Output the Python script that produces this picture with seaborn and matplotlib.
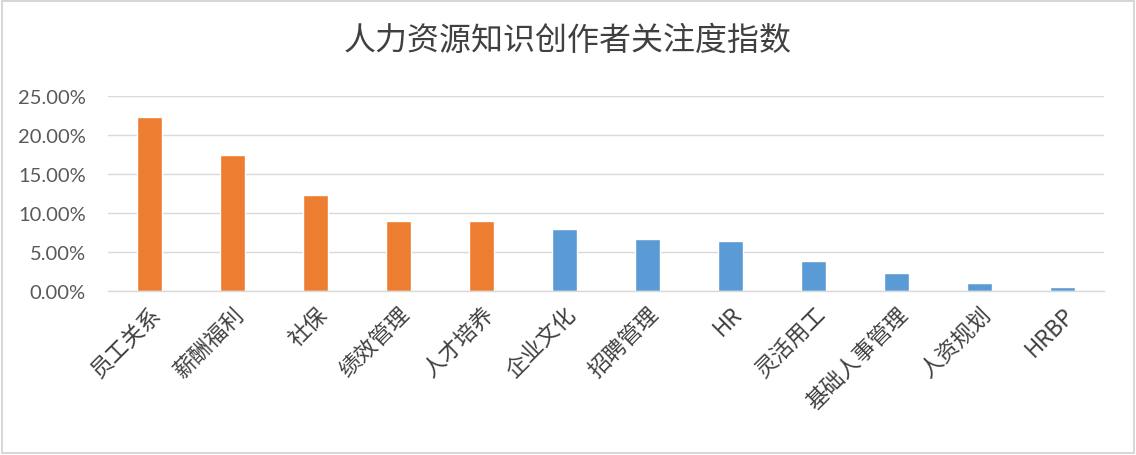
import matplotlib
matplotlib.use("Agg")
import matplotlib.pyplot as plt
import seaborn as sns
import pandas as pd
from matplotlib.ticker import PercentFormatter, MultipleLocator
from matplotlib.patches import Rectangle

categories = ["员工关系", "薪酬福利", "社保", "绩效管理", "人才培养", "企业文化",
              "招聘管理", "HR", "灵活用工", "基础人事管理", "人资规划", "HRBP"]
values = [0.223, 0.174, 0.123, 0.090, 0.090, 0.0795,
          0.067, 0.064, 0.0385, 0.023, 0.010, 0.005]
groups = ["前五", "前五", "前五", "前五", "前五", "其他",
          "其他", "其他", "其他", "其他", "其他", "其他"]
title = "人力资源知识创作者关注度指数"

sns.set_theme(style="white")
plt.rcParams["font.family"] = ["Noto Sans CJK SC", "DejaVu Sans"]

df = pd.DataFrame({"cat": categories, "val": values, "grp": groups})
palette = {"前五": "#ED7D31", "其他": "#5B9BD5"}

fig = plt.figure(figsize=(11.36, 4.56), dpi=100)
fig.patch.set_facecolor("white")
ax = fig.add_axes([0.095, 0.3596, 0.877, 0.4274])

sns.barplot(data=df, x="cat", y="val", hue="grp", palette=palette, dodge=False,
            width=0.3, legend=False, ax=ax, saturation=1)

ax.set_ylim(0, 0.25)
ax.set_xlim(-0.5, len(categories) - 0.5)
ax.yaxis.set_major_locator(MultipleLocator(0.05))
ax.yaxis.set_major_formatter(PercentFormatter(xmax=1, decimals=2))
ax.grid(axis="y", color="#D9D9D9", linewidth=1)
ax.set_axisbelow(True)
for s in ["top", "right", "left"]:
    ax.spines[s].set_visible(False)
ax.spines["bottom"].set_color("#D9D9D9")
ax.spines["bottom"].set_linewidth(1)
ax.set_xlabel("")
ax.set_ylabel("")
ax.tick_params(axis="both", length=0)
ax.tick_params(axis="y", labelsize=14.5, labelcolor="#595959", pad=16)
ax.tick_params(axis="x", labelsize=16, labelcolor="#404040", pad=8)
for lbl in ax.get_yticklabels():
    lbl.set_family(["Lato", "DejaVu Sans"])
for lbl in ax.get_xticklabels():
    lbl.set_rotation(45)
    lbl.set_ha("right")
    lbl.set_rotation_mode("anchor")

fig.text(0.5, 0.91, title, ha="center", va="center", fontsize=23,
         color="#404040", fontweight="light")

fig.patches.append(Rectangle((0.002, 0.004), 0.996, 0.992, transform=fig.transFigure,
                             fill=False, edgecolor="#D0D0D0", linewidth=1.2))

fig.savefig("out.png", dpi=100)
